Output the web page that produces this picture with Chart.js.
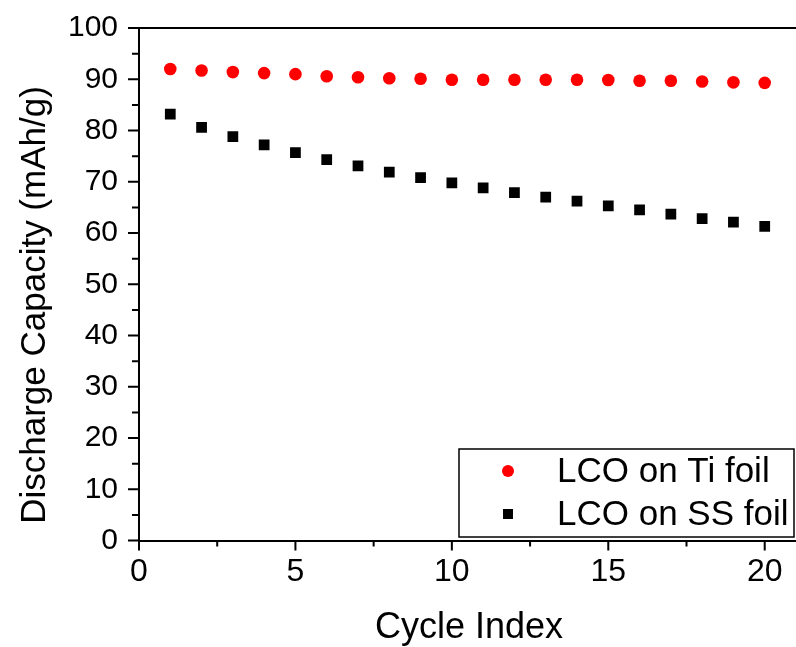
<!DOCTYPE html>
<html lang="en">
<head>
    <meta charset="UTF-8">
    <title>Discharge Capacity vs Cycle Index</title>
    <script src="https://cdn.jsdelivr.net/npm/chart.js"></script>
    <style>
        html, body { margin: 0; padding: 0; background: #fff; }
        #capacity-chart { display: block; }
    </style>
</head>
<body>
    <canvas id="capacity-chart" width="796" height="647"></canvas>

    <script>
        // cycle numbers and discharge capacities (mAh/g)
        const cycles = [1, 2, 3, 4, 5, 6, 7, 8, 9, 10, 11, 12, 13, 14, 15, 16, 17, 18, 19, 20];
        const tiFoil = [92.0, 91.7, 91.4, 91.2, 91.0, 90.6, 90.4, 90.2, 90.1, 89.9,
                        89.9, 89.9, 89.9, 89.9, 89.85, 89.7, 89.7, 89.55, 89.4, 89.3];
        const ssFoil = [83.2, 80.6, 78.8, 77.2, 75.7, 74.3, 73.1, 71.9, 70.8, 69.8,
                        68.8, 67.9, 67.0, 66.2, 65.3, 64.5, 63.7, 62.8, 62.1, 61.3];

        // axis ticks
        const xMajorTicks = [0, 5, 10, 15, 20];
        const xMinorTicks = [2.5, 7.5, 12.5, 17.5];
        const yMajorTicks = [0, 10, 20, 30, 40, 50, 60, 70, 80, 90, 100];
        const yMinorTicks = [5, 15, 25, 35, 45, 55, 65, 75, 85, 95];

        const FONT = '"Liberation Sans", Arial, Helvetica, sans-serif';

        // frame, tick marks, axis titles and the boxed legend
        const framePlugin = {
            id: 'frame',
            afterDraw(chart) {
                const ctx = chart.ctx;
                const area = chart.chartArea;
                const xs = chart.scales.x;
                const ys = chart.scales.y;

                ctx.save();
                ctx.strokeStyle = '#000';
                ctx.lineWidth = 2;

                // top frame line
                ctx.beginPath();
                ctx.moveTo(area.left, area.top);
                ctx.lineTo(area.right, area.top);
                ctx.stroke();

                // outward ticks
                ctx.beginPath();
                xMajorTicks.forEach(v => {
                    const px = xs.getPixelForValue(v);
                    ctx.moveTo(px, area.bottom);
                    ctx.lineTo(px, area.bottom + 10);
                });
                xMinorTicks.forEach(v => {
                    const px = xs.getPixelForValue(v);
                    ctx.moveTo(px, area.bottom);
                    ctx.lineTo(px, area.bottom + 6);
                });
                yMajorTicks.forEach(v => {
                    const py = ys.getPixelForValue(v);
                    ctx.moveTo(area.left, py);
                    ctx.lineTo(area.left - 11, py);
                });
                yMinorTicks.forEach(v => {
                    const py = ys.getPixelForValue(v);
                    ctx.moveTo(area.left, py);
                    ctx.lineTo(area.left - 7, py);
                });
                ctx.stroke();

                // axis titles
                ctx.fillStyle = '#000';
                ctx.font = '36px ' + FONT;
                ctx.textAlign = 'center';
                ctx.textBaseline = 'alphabetic';
                ctx.fillText('Cycle Index', 469, 638);

                ctx.save();
                ctx.translate(45, 305);
                ctx.rotate(-Math.PI / 2);
                ctx.font = '35px ' + FONT;
                ctx.fillText('Discharge Capacity (mAh/g)', 0, 0);
                ctx.restore();

                // legend box
                const box = { left: 459, top: 449, right: 794, bottom: 537 };
                ctx.fillStyle = '#fff';
                ctx.fillRect(box.left, box.top, box.right - box.left, box.bottom - box.top);
                ctx.lineWidth = 1.5;
                ctx.strokeRect(box.left, box.top, box.right - box.left, box.bottom - box.top);

                const rows = [471, 514];
                chart.data.datasets.forEach((ds, i) => {
                    const cy = rows[i];
                    ctx.fillStyle = ds.backgroundColor;
                    if (ds.pointStyle === 'rect') {
                        ctx.fillRect(508 - 5, cy - 5, 10, 10);
                    } else {
                        ctx.beginPath();
                        ctx.arc(508, cy, 6, 0, Math.PI * 2);
                        ctx.fill();
                    }
                    ctx.fillStyle = '#000';
                    ctx.font = '35px ' + FONT;
                    ctx.textAlign = 'left';
                    ctx.textBaseline = 'middle';
                    ctx.fillText(ds.label, 557, cy + 1);
                });

                ctx.restore();
            }
        };

        const toPoints = values => cycles.map((c, i) => ({ x: c, y: values[i] }));

        // keep the plot area fixed: no extra room for overhanging tick labels
        const noOverhang = scale => {
            scale.paddingLeft = 0;
            scale.paddingRight = 0;
            scale.paddingTop = 0;
            scale.paddingBottom = 0;
        };

        const ctx = document.getElementById('capacity-chart').getContext('2d');
        new Chart(ctx, {
            type: 'scatter',
            data: {
                datasets: [
                    {
                        label: 'LCO on Ti foil',
                        data: toPoints(tiFoil),
                        pointStyle: 'circle',
                        pointRadius: 6.3,
                        backgroundColor: '#ff0000',
                        borderColor: '#ff0000',
                        borderWidth: 0
                    },
                    {
                        label: 'LCO on SS foil',
                        data: toPoints(ssFoil),
                        pointStyle: 'rect',
                        pointRadius: 7.6,
                        backgroundColor: '#000000',
                        borderColor: '#000000',
                        borderWidth: 0
                    }
                ]
            },
            options: {
                responsive: false,
                animation: false,
                layout: {
                    autoPadding: false,
                    padding: { top: 28, right: 0, bottom: 0, left: 0 }
                },
                plugins: {
                    legend: { display: false },
                    tooltip: { enabled: false }
                },
                scales: {
                    x: {
                        type: 'linear',
                        min: 0,
                        max: 21,
                        afterBuildTicks: scale => { scale.ticks = xMajorTicks.map(v => ({ value: v })); },
                        afterFit: scale => { scale.height = 106.5; noOverhang(scale); },
                        grid: { display: false, drawTicks: false },
                        border: { display: true, color: '#000', width: 2 },
                        ticks: {
                            color: '#000',
                            padding: 12,
                            maxRotation: 0,
                            font: { family: FONT, size: 32 }
                        }
                    },
                    y: {
                        min: 0,
                        max: 100,
                        afterBuildTicks: scale => { scale.ticks = yMajorTicks.map(v => ({ value: v })); },
                        afterFit: scale => { scale.width = 139; noOverhang(scale); },
                        grid: { display: false, drawTicks: false },
                        border: { display: true, color: '#000', width: 2 },
                        ticks: {
                            color: '#000',
                            padding: 21,
                            font: { family: FONT, size: 30 }
                        }
                    }
                }
            },
            plugins: [framePlugin]
        });
    </script>
</body>
</html>
